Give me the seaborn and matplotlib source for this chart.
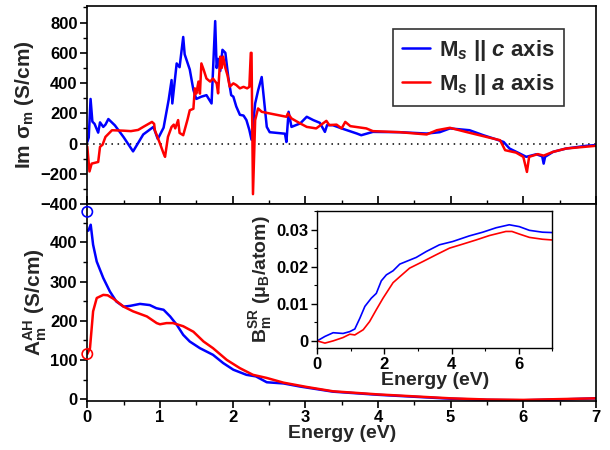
import matplotlib
matplotlib.use("Agg")
import matplotlib.pyplot as plt
import seaborn as sns
import numpy as np
import pandas as pd
from matplotlib.ticker import MultipleLocator, FixedLocator

# ---------------- data ----------------
top_c_E = [0.0, 0.02, 0.045, 0.07, 0.10, 0.15, 0.175, 0.22, 0.25, 0.29, 0.38, 0.50, 0.63, 0.77, 0.91, 0.97,
           1.05, 1.12, 1.16, 1.17, 1.23, 1.27, 1.32, 1.34, 1.41, 1.46, 1.50, 1.57, 1.64, 1.71, 1.76, 1.78,
           1.80, 1.83, 1.86, 1.90, 1.94, 1.98, 2.01, 2.05, 2.10, 2.15, 2.19, 2.23, 2.26, 2.31, 2.35, 2.40,
           2.47, 2.51, 2.72, 2.74, 2.77, 2.81, 2.93, 3.02, 3.11, 3.20, 3.27, 3.30, 3.38, 3.50, 3.71, 3.77,
           3.93, 4.30, 4.67, 4.85, 4.99, 5.26, 5.45, 5.63, 5.73, 5.81, 5.95, 6.04, 6.18, 6.26, 6.28, 6.30,
           6.41, 6.59, 6.87, 7.0]
top_c_v = [10, 40, 295, 145, 130, 72, 140, 110, 125, 162, 120, 42, -52, 60, 110, 30,
           105, 290, 420, 265, 530, 505, 705, 590, 490, 355, 295, 310, 320, 265, 810, 500,
           560, 480, 620, 600, 440, 320, 310, 245, 190, 185, 155, 90, 25, 265, 350, 440,
           110, 75, 65, 10, 210, 110, 133, 177, 155, 137, 77, 122, 121, 100, 66, 55,
           77, 75, 66, 75, 100, 88, 55, 27, 10, -33, -66, -88, -71, -85, -133, -88,
           -55, -33, -15, -10]

top_a_E = [0.0, 0.03, 0.06, 0.15, 0.175, 0.21, 0.25, 0.34, 0.50, 0.60, 0.70, 0.77, 0.89, 0.92, 0.93, 1.00,
           1.05, 1.07, 1.11, 1.16, 1.19, 1.21, 1.25, 1.27, 1.32, 1.38, 1.41, 1.46, 1.48, 1.50, 1.53, 1.55,
           1.57, 1.60, 1.64, 1.69, 1.73, 1.78, 1.80, 1.83, 1.85, 1.87, 1.90, 1.93, 1.96, 2.01, 2.05, 2.10,
           2.15, 2.20, 2.23, 2.25, 2.26, 2.28, 2.31, 2.35, 2.40, 2.51, 2.74, 2.76, 2.81, 2.93, 3.02, 3.15,
           3.29, 3.33, 3.43, 3.50, 3.55, 3.62, 3.84, 3.93, 4.30, 4.67, 4.81, 4.99, 5.21, 5.49, 5.68, 5.75,
           5.90, 6.00, 6.05, 6.08, 6.20, 6.28, 6.41, 6.59, 7.0]
top_a_v = [-20, -185, -133, -122, -22, -8, 44, 88, 85, 82, 90, 110, 143, 130, 88, 0,
           -66, -88, 44, 110, 125, 100, 155, 70, 55, 160, 220, 230, 365, 330, 410, 330,
           530, 490, 430, 410, 430, 398, 332, 575, 500, 575, 500, 450, 376, 398, 387, 365,
           375, 365, 375, 600, 600, -335, 155, 232, 210, 199, 177, 199, 166, 133, 110, 100,
           150, 122, 125, 100, 143, 115, 100, 82, 75, 60, 88, 104, 77, 44, 22, -44,
           -60, -88, -188, -88, -70, -80, -55, -33, -15]

bot_c_E = [0.0, 0.015, 0.047, 0.08, 0.13, 0.22, 0.31, 0.40, 0.50, 0.59, 0.725, 0.86, 0.95, 1.05, 1.14, 1.23,
           1.32, 1.41, 1.55, 1.73, 1.87, 2.01, 2.19, 2.32, 2.47, 2.70, 2.93, 3.38, 4.0, 4.5, 5.0, 5.5,
           6.0, 6.5, 7.0]
bot_c_v = [430, 430, 445, 394, 351, 309, 275, 249, 236, 238, 243, 240, 232, 228, 211, 190,
           164, 147, 130, 113, 92, 75, 62, 58, 43, 40, 32, 19, 11, 6, 1, -2,
           -3, -1, 2]

bot_a_E = [0.0, 0.037, 0.08, 0.13, 0.22, 0.28, 0.36, 0.50, 0.63, 0.82, 0.955, 1.0, 1.09, 1.18, 1.32, 1.46,
           1.60, 1.73, 1.92, 2.10, 2.28, 2.47, 2.70, 3.02, 3.38, 4.0, 4.5, 5.0, 5.5, 6.0, 6.5, 7.0]
bot_a_v = [115, 130, 224, 258, 266, 265, 256, 236, 224, 211, 194, 191, 194, 194, 186, 172,
           147, 130, 100, 79, 62, 54, 42, 31, 20, 12, 7, 2, -1, -2, 0, 2]

circ_E = [0.0, 0.0]
circ_v = [478, 115]

ins_c_E = [0.0, 0.23, 0.475, 0.77, 0.97, 1.12, 1.27, 1.42, 1.61, 1.76, 1.91, 2.06, 2.26, 2.46, 2.65, 2.95,
           3.25, 3.64, 4.04, 4.53, 4.93, 5.33, 5.72, 6.02, 6.32, 6.71, 7.0]
ins_c_v = [0.0, 0.0012, 0.0022, 0.0020, 0.0025, 0.0032, 0.0061, 0.0093, 0.0115, 0.0128, 0.0162, 0.0178,
           0.0189, 0.0207, 0.0214, 0.0225, 0.0241, 0.0259, 0.0268, 0.0283, 0.0293, 0.0305, 0.0313, 0.0308,
           0.0298, 0.0293, 0.0292]
ins_a_E = [0.0, 0.23, 0.475, 0.77, 0.97, 1.12, 1.37, 1.56, 1.76, 1.96, 2.26, 2.46, 2.75, 3.15, 3.54, 3.94,
           4.34, 4.73, 5.13, 5.62, 5.80, 6.02, 6.32, 6.71, 7.0]
ins_a_v = [0.0, -0.0006, 0.0, 0.0009, 0.0018, 0.0016, 0.0030, 0.0052, 0.0084, 0.0115, 0.0157, 0.0173,
           0.0196, 0.0214, 0.0232, 0.0250, 0.0261, 0.0272, 0.0284, 0.0295, 0.0295, 0.0288, 0.0279, 0.0274,
           0.0272]

top_yticks = [-400, -200, 0, 200, 400, 600, 800]
bot_yticks = [0, 100, 200, 300, 400]
ins_yticks = [0.0, 0.01, 0.02, 0.03]
ins_yticklabels = ["0", "0.01", "0.02", "0.03"]

labels = [r"M$_{s}$ || $\mathbfit{c}$ axis", r"M$_{s}$ || $\mathbfit{a}$ axis"]
colors = ["#0000ff", "#ff0000"]

# ---------------- style ----------------
sns.set_theme(style="ticks")
plt.rcParams.update({
    "font.family": ["Liberation Sans", "DejaVu Sans"],
    "font.weight": "bold",
    "axes.labelweight": "bold",
    "mathtext.fontset": "custom",
    "mathtext.rm": "Liberation Sans",
    "mathtext.it": "Liberation Sans:italic",
    "mathtext.bf": "Liberation Sans:bold",
    "mathtext.bfit": "Liberation Sans:bold:italic",
    "axes.linewidth": 1.2,
    "axes.edgecolor": "black",
    "xtick.color": "black",
    "ytick.color": "black",
})

fig = plt.figure(figsize=(6.1, 4.5), dpi=100)
ax1 = fig.add_axes([0.1431, 0.5467, 0.8339, 0.44])
ax2 = fig.add_axes([0.1431, 0.1096, 0.8339, 0.4371])
ax3 = fig.add_axes([0.520, 0.226, 0.3853, 0.305])

tick_fs = 12
lab_fs = 15

# ---- top panel ----
df_top = pd.concat([
    pd.DataFrame({"E": top_c_E, "v": top_c_v, "s": labels[0]}),
    pd.DataFrame({"E": top_a_E, "v": top_a_v, "s": labels[1]}),
])
ax1.axhline(0, color="black", ls=(0, (1, 3)), lw=1.1, zorder=1)
sns.lineplot(data=df_top, x="E", y="v", hue="s", palette=colors, estimator=None, sort=False,
             lw=1.8, ax=ax1)
ax1.set_xlim(0, 7)
ax1.set_ylim(-400, 910)
ax1.set_xlabel("")
ax1.set_ylabel(r"Im $\mathrm{\sigma}_{\mathbf{m}}$ (S/cm)", fontsize=lab_fs, fontweight="bold", labelpad=3)
ax1.yaxis.set_major_locator(FixedLocator(top_yticks))
ax1.yaxis.set_minor_locator(MultipleLocator(100))
ax1.xaxis.set_major_locator(MultipleLocator(1))
ax1.xaxis.set_minor_locator(MultipleLocator(0.5))
ax1.tick_params(axis="x", which="both", direction="in", labelbottom=False)
ax1.tick_params(axis="x", which="major", length=6, width=1.2)
ax1.tick_params(axis="x", which="minor", length=3, width=1.0)
ax1.tick_params(axis="y", which="major", direction="out", length=5, width=1.2, labelsize=tick_fs, pad=2)
ax1.tick_params(axis="y", which="minor", direction="out", length=3, width=1.0)
for t in ax1.get_yticklabels():
    t.set_fontweight("bold")
leg = ax1.legend(loc="upper right", bbox_to_anchor=(0.937, 0.884), borderaxespad=0,
                 fontsize=16, frameon=True, fancybox=False, edgecolor="black",
                 handlelength=1.3, handletextpad=0.4, borderpad=0.4, labelspacing=0.4)
leg.get_frame().set_linewidth(1.2)
for t in leg.get_texts():
    t.set_fontweight("bold")
for l in leg.get_lines():
    l.set_linewidth(1.8)

# ---- bottom panel ----
df_bot = pd.concat([
    pd.DataFrame({"E": bot_c_E, "v": bot_c_v, "s": labels[0]}),
    pd.DataFrame({"E": bot_a_E, "v": bot_a_v, "s": labels[1]}),
])
sns.lineplot(data=df_bot, x="E", y="v", hue="s", palette=colors, estimator=None, sort=False,
             lw=1.8, ax=ax2, legend=False)
df_circ = pd.DataFrame({"E": circ_E, "v": circ_v, "s": labels})
sns.scatterplot(data=df_circ, x="E", y="v", hue="s", palette=colors, ax=ax2, legend=False,
                s=55, marker="o", linewidth=1.2, clip_on=False, zorder=5)
coll = ax2.collections[-1]
coll.set_edgecolors(colors)
coll.set_facecolors("none")
ax2.set_xlim(0, 7)
ax2.set_ylim(-4, 498)
ax2.set_xlabel("Energy (eV)", fontsize=14, fontweight="bold", labelpad=0)
ax2.set_ylabel(r"$\mathbf{A}_{\mathbf{m}}^{\mathbf{AH}}$ (S/cm)", fontsize=lab_fs, fontweight="bold", labelpad=1)
ax2.yaxis.set_major_locator(FixedLocator(bot_yticks))
ax2.yaxis.set_minor_locator(MultipleLocator(50))
ax2.xaxis.set_major_locator(MultipleLocator(1))
ax2.xaxis.set_minor_locator(MultipleLocator(0.5))
ax2.tick_params(axis="both", which="major", direction="out", length=5, width=1.2, labelsize=tick_fs, pad=2)
ax2.tick_params(axis="both", which="minor", direction="out", length=3, width=1.0)
for t in ax2.get_yticklabels() + ax2.get_xticklabels():
    t.set_fontweight("bold")

# ---- inset ----
df_ins = pd.concat([
    pd.DataFrame({"E": ins_c_E, "v": ins_c_v, "s": labels[0]}),
    pd.DataFrame({"E": ins_a_E, "v": ins_a_v, "s": labels[1]}),
])
sns.lineplot(data=df_ins, x="E", y="v", hue="s", palette=colors, estimator=None, sort=False,
             lw=1.2, ax=ax3, legend=False)
ax3.set_xlim(0, 7)
ax3.set_ylim(-0.002, 0.035)
ax3.set_xlabel("Energy (eV)", fontsize=14, fontweight="bold", labelpad=0)
ax3.set_ylabel(r"$\mathbf{B}_{\mathbf{m}}^{\mathbf{SR}}$ ($\mathrm{\mu}_{\mathbf{B}}$/atom)", fontsize=14,
               fontweight="bold", labelpad=2)
ax3.xaxis.set_major_locator(MultipleLocator(2))
ax3.xaxis.set_minor_locator(MultipleLocator(1))
ax3.set_yticks(ins_yticks)
ax3.set_yticklabels(ins_yticklabels)
ax3.yaxis.set_minor_locator(MultipleLocator(0.005))
ax3.tick_params(axis="both", which="major", direction="out", length=4, width=1.0, labelsize=tick_fs, pad=2)
ax3.tick_params(axis="both", which="minor", direction="out", length=2.5, width=0.8)
for t in ax3.get_yticklabels() + ax3.get_xticklabels():
    t.set_fontweight("bold")
for sp in ax3.spines.values():
    sp.set_linewidth(1.0)

fig.savefig("out.png", dpi=100)
